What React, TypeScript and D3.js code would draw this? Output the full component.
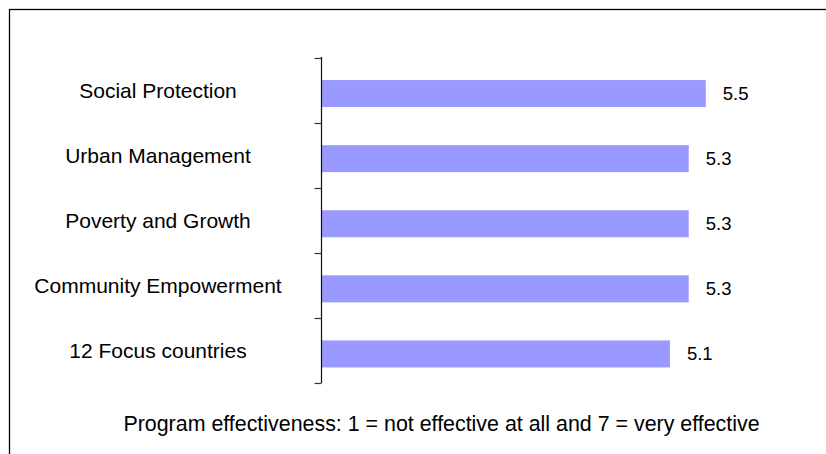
import React from "react";
import * as d3 from "d3";

const categories = [
  "Social Protection",
  "Urban Management",
  "Poverty and Growth",
  "Community Empowerment",
  "12 Focus countries",
];
const values = [5.5, 5.3, 5.3, 5.3, 5.08];
const footnote = "Program effectiveness: 1 = not effective at all and 7 = very effective";

const W = 826;
const H = 454;
const FONT = "'Liberation Sans', Arial, Helvetica, sans-serif";

export default function App() {
  const axisX = 321.5;
  const x = d3.scaleLinear().domain([1, 6]).range([axisX, axisX + 427]);
  const y = d3.scaleBand<string>().domain(categories).range([57.5, 383]).paddingInner(0).paddingOuter(0);
  const barH = 27;
  const barOffset = 3.5;
  const fmt = d3.format(".1f");
  const boundaries = [...categories.map((c) => y(c) as number), 383];

  return (
    <svg
      width={W}
      height={H}
      style={{ position: "fixed", left: 0, top: 0, background: "#fff" }}
      fontFamily={FONT}
    >
      <rect x={0} y={0} width={W} height={H} fill="#fff" />
      <rect x={9.5} y={9.5} width={W + 20} height={H + 20} fill="none" stroke="#000" strokeWidth={1.3} />
      {categories.map((c, i) => {
        const cy = (y(c) as number) + y.bandwidth() / 2;
        return (
          <g key={c}>
            <rect
              x={x(1)}
              y={cy + barOffset - barH / 2}
              width={x(values[i]) - x(1)}
              height={barH}
              fill="#9999FF"
            />
            <text x={158} y={cy} textAnchor="middle" dominantBaseline="central" fontSize={21} fill="#000">
              {c}
            </text>
            <text
              x={x(values[i]) + 17}
              y={cy + barOffset}
              dominantBaseline="central"
              fontSize={18.5}
              fill="#000"
            >
              {fmt(values[i])}
            </text>
          </g>
        );
      })}
      <line x1={axisX} x2={axisX} y1={57} y2={383} stroke="#111" strokeWidth={1.2} />
      {boundaries.map((b, i) => (
        <line key={i} x1={axisX - 7} x2={axisX} y1={Math.round(b) + 0.5} y2={Math.round(b) + 0.5} stroke="#333" strokeWidth={1.2} />
      ))}
      <text x={441.5} y={431} textAnchor="middle" fontSize={21.4} fill="#000">
        {footnote}
      </text>
    </svg>
  );
}
